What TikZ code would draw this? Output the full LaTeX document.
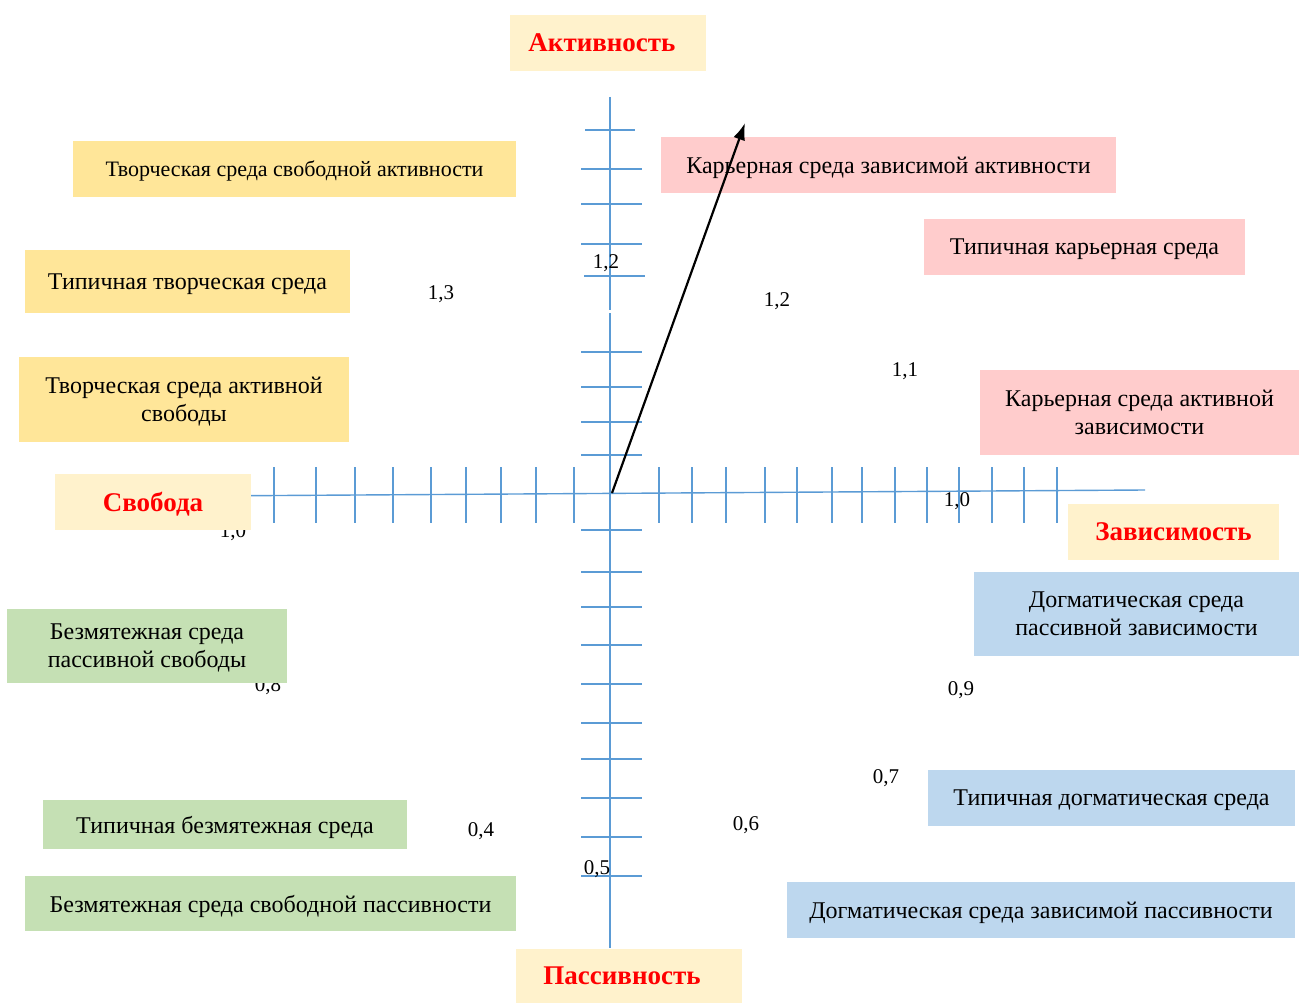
\documentclass[tikz,border=0pt]{standalone}
\usepackage{fontspec}
\setmainfont{Liberation Serif}
\usetikzlibrary{arrows.meta}
\definecolor{gold}{HTML}{FFE699}
\definecolor{cream}{HTML}{FFF2CC}
\definecolor{rose}{HTML}{FFCCCC}
\definecolor{sage}{HTML}{C5E0B4}
\definecolor{sky}{HTML}{BDD7EE}
\definecolor{axisblue}{HTML}{5B9BD5}
\begin{document}
\begin{tikzpicture}
  [x=1pt,y=-1pt,
   every node/.style={inner sep=0pt,align=center,font=\fontsize{24}{28}\selectfont},
   num/.style={font=\fontsize{21}{21}\selectfont},
   axis/.style={axisblue,line width=1.4pt},
   box/.style={text depth=0pt},
   pole/.style={box,fill=cream,text=red,font=\fontsize{27}{30}\selectfont\bfseries},
   creative/.style={box,fill=gold},
   career/.style={box,fill=rose},
   serene/.style={box,fill=sage},
   dogma/.style={box,fill=sky}]
  \useasboundingbox (0,0) rectangle (1300,1003);

  % axes
  \coordinate (top) at (610,97);
  \coordinate (gapa) at (610,310);
  \coordinate (gapb) at (610,313);
  \coordinate (bottom) at (610,948);
  \coordinate (left) at (200,496);
  \coordinate (right) at (1145,490);
  \draw[axis] (top) -- (gapa);
  \draw[axis] (gapb) -- (bottom);
  \draw[axis] (left) -- (right);
  \draw[axis] (585,130) -- (635,130);
  \draw[axis] (584,276) -- (645,276);
  \foreach \y in {169,204,244,352,387,422,455,530,572,607,645,684,723,759,798,837,876}
    \draw[axis] (581,\y) -- (642,\y);
  \foreach \x in {274,316,355,393,431,466,501,536,574,659,692,726,765,797,832,862,895,927,959,992,1024,1057}
    \draw[axis] (\x,467) -- (\x,523);

  % values
  \node[num] (n12a) at (606,263) {1,2};
  \node[num] (n13) at (441,294) {1,3};
  \node[num] (n12b) at (777,301) {1,2};
  \node[num] (n11) at (905,371) {1,1};
  \node[num] (n10a) at (957,501) {1,0};
  \node[num] (n10b) at (233,532) {1,0};
  \node[num] (n08) at (268,686) {0,8};
  \node[num] (n09) at (961,690) {0,9};
  \node[num] (n07) at (886,778) {0,7};
  \node[num] (n06) at (746,825) {0,6};
  \node[num] (n04) at (481,831) {0,4};
  \node[num] (n05) at (597,869) {0,5};

  % poles
  \node[pole,minimum width=196,minimum height=56] (act) at (608,43) {Активность\hspace*{12pt}};
  \node[pole,minimum width=196,minimum height=56] (free) at (153,502) {Свобода};
  \node[pole,minimum width=211,minimum height=56] (dep) at (1173.5,532) {Зависимость};
  \node[pole,minimum width=226,minimum height=54] (pass) at (629,976) {Пассивность\hspace*{14pt}};

  % creative environments
  \node[creative,minimum width=443,minimum height=56,font=\fontsize{22}{26}\selectfont] (c1) at (294.5,169) {Творческая среда свободной активности};
  \node[creative,minimum width=325,minimum height=63] (c2) at (187.5,281.5) {Типичная творческая среда};
  \node[creative,minimum width=330,minimum height=85] (c3) at (184,399.5) {Творческая среда активной\\свободы};

  % career environments
  \node[career,minimum width=455,minimum height=56] (k1) at (888.5,165) {Карьерная среда зависимой активности};
  \node[career,minimum width=321,minimum height=56] (k2) at (1084.5,247) {Типичная карьерная среда};
  \node[career,minimum width=319,minimum height=85] (k3) at (1139.5,412.5) {Карьерная среда активной\\зависимости};

  % serene environments
  \node[serene,minimum width=280,minimum height=74] (s1) at (147,646) {Безмятежная среда\\пассивной свободы};
  \node[serene,minimum width=364,minimum height=49] (s2) at (225,824.5) {Типичная безмятежная среда};
  \node[serene,minimum width=491,minimum height=55] (s3) at (270.5,903.5) {Безмятежная среда свободной пассивности};

  % dogmatic environments
  \node[dogma,minimum width=325,minimum height=84] (d1) at (1136.5,614) {Догматическая среда\\пассивной зависимости};
  \node[dogma,minimum width=367,minimum height=56] (d2) at (1111.5,798) {Типичная догматическая среда};
  \node[dogma,minimum width=508,minimum height=56] (d3) at (1041,910) {Догматическая среда зависимой пассивности};

  \coordinate (O) at (612,493);
  \coordinate (tip) at (745,123);
  \draw[line width=2.2pt,-{Latex[length=17pt,width=12pt]}] (O) -- (tip);
\end{tikzpicture}
\end{document}
